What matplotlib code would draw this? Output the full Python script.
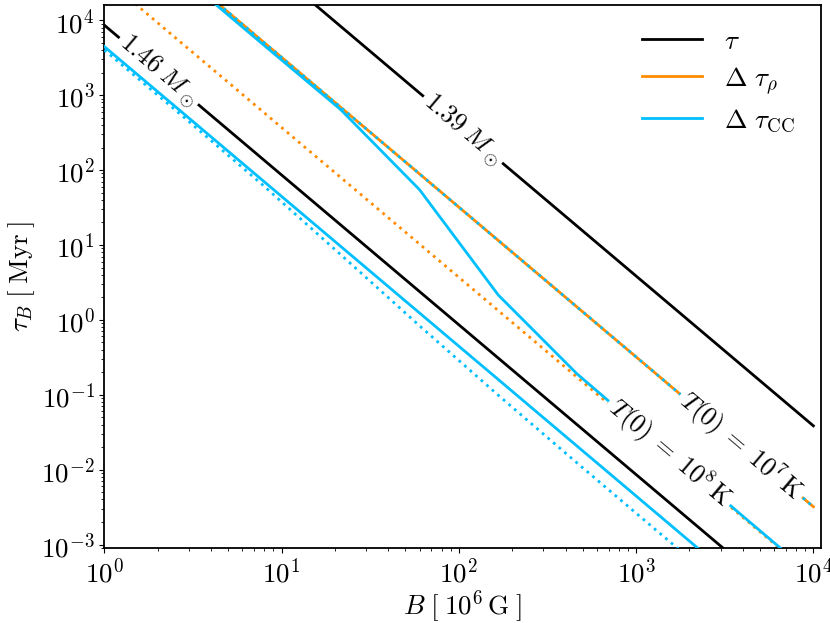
import math
import matplotlib
matplotlib.use("Agg")
import matplotlib.pyplot as plt
from matplotlib.ticker import LogLocator, FuncFormatter, NullFormatter

plt.rcParams['mathtext.fontset'] = 'cm'
plt.rcParams['font.family'] = 'serif'
plt.rcParams['font.serif'] = ['cmr10', 'DejaVu Serif']
plt.rcParams['axes.unicode_minus'] = False
plt.rcParams['axes.linewidth'] = 1.3

# ---------------- data ----------------
# straight power-law lines, sampled at decades of B [1e6 G]
B_line = [1, 10, 100, 1000, 10000]
tau_139 = [3.85e6, 3.85e4, 385, 3.85, 0.0385]          # tau, 1.39 Msun
tau_146 = [8600, 86, 0.86, 0.0086, 8.6e-5]              # tau, 1.46 Msun
drho_T7 = [3.2e5, 3200, 32, 0.32, 0.0032]               # Delta tau_rho, T(0)=1e7 K
dcc_T7_dot = [3.2e5, 3200, 32, 0.32, 0.0032]            # Delta tau_CC (dotted), T(0)=1e7 K
drho_T8_dot = [37000, 370, 3.7, 0.037, 3.7e-4]          # Delta tau_rho (dotted), T(0)=1e8 K
dcc_146 = [4450, 44.5, 0.445, 4.45e-3, 4.45e-5]         # Delta tau_CC, 1.46 Msun

# curved lines, sampled on the model grid of B
B_grid = [1, 2.78, 7.74, 21.5, 59.9, 166.8, 464.2, 1291.5, 3593.8, 10000]
dcc_T8 = [2.95e5, 3.8e4, 4900, 645, 55, 2.15, 0.19, 0.0238, 2.97e-3, 3.8e-4]
dcc_146_dot = [4010, 519, 64.7, 7.47, 0.837, 0.0987, 0.0123, 1.57e-3, 2.03e-4, 2.62e-5]

# inline labels: (text, B, tau)
labels = [
    (r'$1.39\;M_\odot$', 105, 341),
    (r'$1.46\;M_\odot$', 2.03, 2100),
    (r'$T(0)\;=\;10^7\,\mathrm{K}$', 3900, 0.0205),
    (r'$T(0)\;=\;10^8\,\mathrm{K}$', 1540, 0.0166),
]
legend_labels = [r'$\tau$', r'$\Delta\ \tau_\rho$', r'$\Delta\ \tau_{\rm CC}$']

# ---------------- plot ----------------
BLACK = 'black'
ORANGE = '#ff8c00'
BLUE = '#00bfff'
LW = 2.0
FS = 19.5

fig = plt.figure(figsize=(8.3, 6.23), dpi=100)
ax = fig.add_axes([0.1257, 0.1204, 0.8631, 0.8716])
ax.set_xscale('log')
ax.set_yscale('log')

ax.plot(B_line, tau_146, color=BLACK, lw=LW, zorder=2.0)
ax.plot(B_line, tau_139, color=BLACK, lw=LW, zorder=2.0)
ax.plot(B_line, drho_T7, color=ORANGE, lw=LW, zorder=2.2)
ax.plot(B_line, dcc_T7_dot, color=BLUE, lw=LW, ls=':', zorder=2.3)
ax.plot(B_line, drho_T8_dot, color=ORANGE, lw=LW, ls=':', zorder=2.5)
ax.plot(B_grid, dcc_T8, color=BLUE, lw=LW, zorder=2.6)
ax.plot(B_line, dcc_146, color=BLUE, lw=LW, zorder=2.8)
ax.plot(B_grid, dcc_146_dot, color=BLUE, lw=LW, ls=':', zorder=2.9)

label_z = [2.1, 2.1, 2.45, 2.7]
for (txt, bx, by), z in zip(labels, label_z):
    ax.text(bx, by, txt, fontsize=18.5, rotation=-40.2, rotation_mode='anchor',
            ha='center', va='center', zorder=z,
            bbox=dict(boxstyle='square,pad=0.15', fc='white', ec='none'))

ax.set_xlim(1, 1.1e4)
ax.set_ylim(9e-4, 1.6e4)

fmt = FuncFormatter(lambda v, p: r'$10^{%d}$' % round(math.log10(v)))
ax.xaxis.set_major_locator(LogLocator(base=10, numticks=20))
ax.yaxis.set_major_locator(LogLocator(base=10, numticks=20))
ax.xaxis.set_minor_locator(LogLocator(base=10, subs=range(2, 10), numticks=50))
ax.yaxis.set_minor_locator(LogLocator(base=10, subs=range(2, 10), numticks=50))
ax.xaxis.set_major_formatter(fmt)
ax.yaxis.set_major_formatter(fmt)
ax.xaxis.set_minor_formatter(NullFormatter())
ax.yaxis.set_minor_formatter(NullFormatter())
ax.tick_params(labelsize=FS)
ax.xaxis.get_offset_text().set_visible(False)
ax.yaxis.get_offset_text().set_visible(False)

ax.set_xlabel(r'$B\;[\;10^6\,\mathrm{G}\;]$', fontsize=FS, labelpad=1)
ax.set_ylabel(r'$\tau_B\;[\;\mathrm{Myr}\;]$', fontsize=FS, labelpad=3)

h1, = ax.plot([], [], color=BLACK, lw=LW)
h2, = ax.plot([], [], color=ORANGE, lw=LW)
h3, = ax.plot([], [], color=BLUE, lw=LW)
ax.legend([h1, h2, h3], legend_labels, loc='upper right', frameon=False,
          fontsize=FS, handlelength=2.2, handletextpad=0.8, labelspacing=0.42,
          bbox_to_anchor=(0.997, 0.999))

fig.savefig('out.png', dpi=100)
